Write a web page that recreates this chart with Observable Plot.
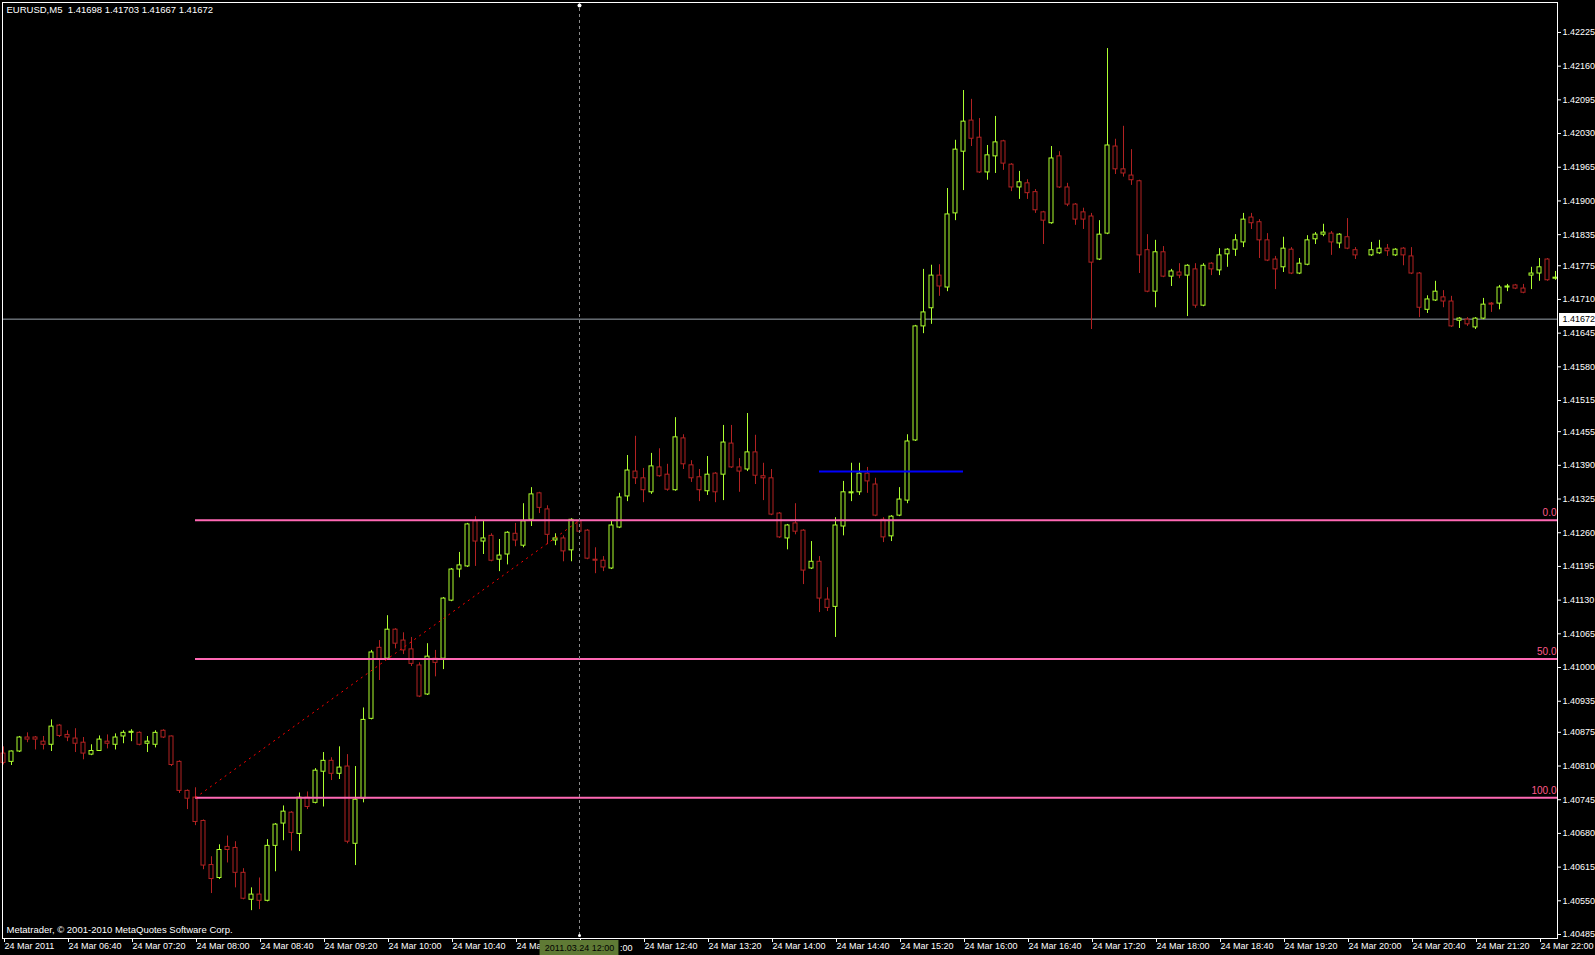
<!DOCTYPE html>
<html><head><meta charset="utf-8">
<script src="https://cdn.jsdelivr.net/npm/d3@7"></script>
<script src="https://cdn.jsdelivr.net/npm/@observablehq/plot@0.6"></script>
<style>html,body{margin:0;padding:0;background:#000;overflow:hidden}</style>
</head><body><div id="chart"></div>
<script>
// EURUSD M5, 24 Mar 2011, bars from 06:00 every 5 minutes
const openP = [1.40834,1.40818,1.40838,1.40865,1.40865,1.40857,1.40851,1.40888,1.40870,1.40863,
1.40855,1.40832,1.40839,1.40857,1.40851,1.40867,1.40874,1.40874,1.40853,1.40851,
1.40878,1.40867,1.40818,1.40762,1.40749,1.40704,1.40619,1.40594,1.40654,1.40652,
1.40604,1.40552,1.40562,1.40550,1.40656,1.40699,1.40720,1.40679,1.40749,1.40739,
1.40799,1.40820,1.40795,1.40809,1.40660,1.40747,1.40901,1.41038,1.41017,1.41073,
1.41052,1.41035,1.41004,1.40948,1.41017,1.41017,1.41129,1.41189,1.41195,1.41282,
1.41243,1.41254,1.41208,1.41218,1.41258,1.41235,1.41285,1.41336,1.41305,1.41245,
1.41249,1.41226,1.41282,1.41264,1.41208,1.41206,1.41191,1.41270,1.41330,1.41378,
1.41365,1.41338,1.41386,1.41372,1.41342,1.41442,1.41390,1.41367,1.41340,1.41374,
1.41372,1.41432,1.41386,1.41382,1.41415,1.41369,1.41365,1.41297,1.41249,1.41278,
1.41264,1.41191,1.41204,1.41131,1.41117,1.41272,1.41336,1.41338,1.41374,1.41353,
1.41285,1.41253,1.41293,1.41322,1.41438,1.41658,1.41693,1.41756,1.41733,1.41876,
1.41995,1.42055,1.42022,1.41955,1.41986,1.42015,1.41970,1.41926,1.41934,1.41917,
1.41878,1.41857,1.41986,1.41926,1.41893,1.41878,1.41870,1.41787,1.41837,1.42005,
1.41961,1.41949,1.41938,1.41805,1.41725,1.41801,1.41754,1.41762,1.41756,1.41768,
1.41698,1.41779,1.41766,1.41797,1.41806,1.41820,1.41868,1.41859,1.41824,1.41787,
1.41772,1.41806,1.41760,1.41777,1.41826,1.41835,1.41837,1.41818,1.41830,1.41805,
1.41801,1.41795,1.41799,1.41808,1.41795,1.41808,1.41793,1.41760,1.41690,1.41708,
1.41714,1.41706,1.41669,1.41671,1.41656,1.41673,1.41702,1.41702,1.41733,1.41737,
1.41731,1.41756,1.41760,1.41787,1.41750];
const highP = [1.40847,1.40839,1.40867,1.40874,1.40867,1.40867,1.40899,1.40890,1.40878,1.40882,
1.40865,1.40851,1.40868,1.40870,1.40872,1.40878,1.40880,1.40876,1.40867,1.40878,
1.40880,1.40868,1.40820,1.40764,1.40768,1.40706,1.40635,1.40658,1.40675,1.40664,
1.40612,1.40575,1.40594,1.40668,1.40699,1.40733,1.40722,1.40758,1.40760,1.40805,
1.40836,1.40826,1.40847,1.40832,1.40809,1.40922,1.41033,1.41052,1.41100,1.41075,
1.41067,1.41058,1.41009,1.41046,1.41033,1.41135,1.41191,1.41222,1.41278,1.41291,
1.41282,1.41258,1.41247,1.41262,1.41278,1.41316,1.41347,1.41338,1.41312,1.41258,
1.41254,1.41287,1.41287,1.41266,1.41231,1.41214,1.41282,1.41336,1.41409,1.41446,
1.41384,1.41413,1.41422,1.41392,1.41482,1.41449,1.41399,1.41382,1.41407,1.41376,
1.41467,1.41467,1.41403,1.41490,1.41448,1.41394,1.41382,1.41299,1.41276,1.41316,
1.41266,1.41243,1.41214,1.41154,1.41289,1.41359,1.41394,1.41394,1.41386,1.41365,
1.41289,1.41293,1.41347,1.41449,1.41660,1.41768,1.41776,1.41777,1.41924,1.42017,
1.42113,1.42096,1.42059,1.42007,1.42063,1.42017,1.41972,1.41957,1.41941,1.41922,
1.41880,1.42005,1.41995,1.41934,1.41895,1.41886,1.41876,1.41862,1.42194,1.42019,
1.42044,1.41999,1.41940,1.41835,1.41824,1.41812,1.41768,1.41779,1.41777,1.41779,
1.41779,1.41781,1.41808,1.41808,1.41835,1.41876,1.41876,1.41864,1.41837,1.41793,
1.41830,1.41810,1.41789,1.41833,1.41839,1.41855,1.41841,1.41837,1.41866,1.41810,
1.41801,1.41820,1.41824,1.41816,1.41808,1.41810,1.41810,1.41762,1.41717,1.41745,
1.41727,1.41716,1.41675,1.41675,1.41675,1.41712,1.41704,1.41737,1.41739,1.41739,
1.41739,1.41772,1.41789,1.41789,1.41764];
const lowP = [1.40812,1.40811,1.40836,1.40855,1.40841,1.40841,1.40838,1.40865,1.40857,1.40836,
1.40822,1.40830,1.40838,1.40843,1.40841,1.40853,1.40857,1.40849,1.40836,1.40845,
1.40863,1.40809,1.40757,1.40726,1.40695,1.40610,1.40564,1.40591,1.40623,1.40575,
1.40552,1.40531,1.40533,1.40548,1.40606,1.40666,1.40646,1.40645,1.40726,1.40737,
1.40731,1.40782,1.40784,1.40660,1.40618,1.40739,1.40899,1.40975,1.41015,1.41036,
1.41025,1.41002,1.40942,1.40946,1.40982,1.40996,1.41127,1.41173,1.41193,1.41195,
1.41218,1.41204,1.41185,1.41198,1.41233,1.41231,1.41272,1.41297,1.41237,1.41235,
1.41204,1.41204,1.41260,1.41208,1.41181,1.41185,1.41189,1.41268,1.41320,1.41353,
1.41318,1.41334,1.41367,1.41340,1.41340,1.41382,1.41357,1.41320,1.41332,1.41318,
1.41322,1.41384,1.41338,1.41378,1.41353,1.41322,1.41293,1.41249,1.41227,1.41256,
1.41160,1.41189,1.41106,1.41108,1.41058,1.41254,1.41320,1.41332,1.41336,1.41291,
1.41241,1.41243,1.41291,1.41316,1.41436,1.41644,1.41662,1.41716,1.41725,1.41862,
1.41920,1.42005,1.41953,1.41940,1.41953,1.41959,1.41918,1.41903,1.41903,1.41876,
1.41816,1.41855,1.41924,1.41889,1.41853,1.41845,1.41652,1.41785,1.41835,1.41951,
1.41946,1.41930,1.41760,1.41723,1.41694,1.41752,1.41735,1.41750,1.41677,1.41693,
1.41696,1.41756,1.41756,1.41772,1.41793,1.41810,1.41845,1.41789,1.41783,1.41729,
1.41762,1.41758,1.41758,1.41775,1.41816,1.41831,1.41795,1.41808,1.41806,1.41787,
1.41801,1.41793,1.41797,1.41793,1.41793,1.41775,1.41758,1.41675,1.41683,1.41706,
1.41694,1.41656,1.41654,1.41658,1.41652,1.41671,1.41685,1.41690,1.41725,1.41729,
1.41721,1.41729,1.41745,1.41745,1.41747];
const closeP = [1.40816,1.40838,1.40865,1.40861,1.40861,1.40851,1.40886,1.40868,1.40865,1.40853,
1.40834,1.40839,1.40861,1.40853,1.40865,1.40874,1.40876,1.40851,1.40857,1.40874,
1.40865,1.40812,1.40762,1.40747,1.40702,1.40618,1.40592,1.40648,1.40648,1.40604,
1.40554,1.40562,1.40550,1.40656,1.40697,1.40722,1.40681,1.40749,1.40731,1.40801,
1.40820,1.40795,1.40807,1.40664,1.40745,1.40899,1.41029,1.41015,1.41073,1.41046,
1.41033,1.41007,1.40944,1.41021,1.41009,1.41133,1.41189,1.41197,1.41276,1.41243,
1.41249,1.41206,1.41216,1.41260,1.41245,1.41282,1.41334,1.41308,1.41256,1.41249,
1.41224,1.41285,1.41262,1.41210,1.41206,1.41193,1.41274,1.41328,1.41380,1.41365,
1.41342,1.41388,1.41369,1.41343,1.41444,1.41392,1.41365,1.41342,1.41372,1.41338,
1.41434,1.41386,1.41378,1.41415,1.41370,1.41365,1.41295,1.41251,1.41274,1.41262,
1.41187,1.41204,1.41133,1.41115,1.41274,1.41338,1.41338,1.41374,1.41359,1.41293,
1.41251,1.41291,1.41324,1.41436,1.41658,1.41685,1.41756,1.41735,1.41874,1.41999,
1.42053,1.42020,1.41955,1.41988,1.42013,1.41972,1.41926,1.41936,1.41915,1.41882,
1.41862,1.41982,1.41926,1.41893,1.41864,1.41864,1.41781,1.41835,1.42007,1.41961,
1.41953,1.41940,1.41795,1.41725,1.41801,1.41754,1.41764,1.41756,1.41775,1.41698,
1.41775,1.41768,1.41795,1.41806,1.41824,1.41864,1.41857,1.41824,1.41785,1.41768,
1.41808,1.41760,1.41779,1.41824,1.41835,1.41839,1.41820,1.41835,1.41808,1.41795,
1.41801,1.41805,1.41808,1.41803,1.41806,1.41795,1.41760,1.41694,1.41710,1.41725,
1.41706,1.41658,1.41673,1.41662,1.41673,1.41700,1.41700,1.41733,1.41735,1.41731,
1.41723,1.41760,1.41772,1.41747,1.41752];

const xTickBars = [0,8,16,24,32,40,48,56,64,72,80,88,96,104,112,120,128,136,144,152,160,168,176,184,192];
// labels 11:20 and 12:00 are mostly hidden behind the crosshair date box: only "24 Ma" and ":00" show
const xTickLabels = ["24 Mar 2011","24 Mar 06:40","24 Mar 07:20","24 Mar 08:00","24 Mar 08:40","24 Mar 09:20","24 Mar 10:00","24 Mar 10:40","24 Ma","","24 Mar 12:40","24 Mar 13:20","24 Mar 14:00","24 Mar 14:40","24 Mar 15:20","24 Mar 16:00","24 Mar 16:40","24 Mar 17:20","24 Mar 18:00","24 Mar 18:40","24 Mar 19:20","24 Mar 20:00","24 Mar 20:40","24 Mar 21:20","24 Mar 22:00"];
const hiddenTickTail = ":00";
const yTicks = [1.42225,1.42160,1.42095,1.42030,1.41965,1.41900,1.41835,1.41775,1.41710,1.41645,1.41580,1.41515,1.41455,1.41390,1.41325,1.41260,1.41195,1.41130,1.41065,1.41000,1.40935,1.40875,1.40810,1.40745,1.40680,1.40615,1.40550,1.40485];

const fibLevels = [1.41284, 1.410165, 1.40749];
const fibLabels = ["0.0", "50.0", "100.0"];
const fibStartBar = 24;
const trendFrom = {bar: 24, price: 1.40749};
const trendTo = {bar: 72, price: 1.41284};
const blueLine = {from: 102, to: 120, price: 1.41378};
const bidPrice = 1.41672;
const crossBar = 72;
const crossLabel = "2011.03.24 12:00";
const header = "EURUSD,M5  1.41698 1.41703 1.41667 1.41672";
const copyright = "Metatrader, \u00A9 2001-2010 MetaQuotes Software Corp.";

const UP = "#adff2f", DN = "#b22222";
const bars = openP.map((o, i) => ({i, o, h: highP[i], l: lowP[i], c: closeP[i], up: closeP[i] >= o}));
const upBars = bars.filter(d => d.up), dnBars = bars.filter(d => !d.up);
const fib = fibLevels.map((level, k) => ({level, label: fibLabels[k]}));
const xLabel = new Map(xTickBars.map((b, k) => [b, xTickLabels[k]]));

const Y0 = 1.404773, Y1 = 1.422828;
const pAt = px => Y1 - (px - 2) * (Y1 - Y0) / 936;
const XR = 194.25;

const chart = Plot.plot({
  width: 1595, height: 955,
  marginLeft: 2, marginRight: 38, marginTop: 2, marginBottom: 17,
  style: {background: "#000", color: "#fff", fontFamily: "'Liberation Sans', Arial, sans-serif", fontSize: "9px"},
  x: {type: "linear", domain: [-0.125, XR], axis: null},
  y: {type: "linear", domain: [Y0, Y1], axis: null},
  marks: [
    Plot.ruleY([bidPrice], {stroke: "#9aa3ad", strokeWidth: 1}),
    Plot.ruleX(upBars, {x: "i", y1: "l", y2: "h", stroke: UP}),
    Plot.ruleX(dnBars, {x: "i", y1: "l", y2: "h", stroke: DN}),
    Plot.rect(upBars, {x1: d => d.i - 0.25, x2: d => d.i + 0.25, y1: "o", y2: "c", fill: "#000", stroke: UP}),
    Plot.rect(dnBars, {x1: d => d.i - 0.25, x2: d => d.i + 0.25, y1: "o", y2: "c", fill: "#000", stroke: DN}),
    Plot.ruleY(fib, {y: "level", x1: fibStartBar, x2: XR, stroke: "#ff69b4", strokeWidth: 2}),
    Plot.text(fib, {x: () => XR, y: "level", text: "label", textAnchor: "end", dx: -1, dy: -7, fill: "#ff5a8a", fontSize: 10}),
    Plot.link([0], {x1: () => trendFrom.bar, y1: () => trendFrom.price, x2: () => trendTo.bar, y2: () => trendTo.price, stroke: "#ff0000", strokeDasharray: "2,4"}),
    Plot.ruleY([blueLine], {y: "price", x1: "from", x2: "to", stroke: "#0000ff", strokeWidth: 2}),
    Plot.ruleX([crossBar], {stroke: "#8a8a8a", strokeDasharray: "3,3"}),
    Plot.frame({stroke: "#fff"}),
    Plot.axisY(yTicks, {anchor: "right", tickSize: 3, tickPadding: 2, tickFormat: d => d.toFixed(5), fill: "#fff", stroke: "#fff", fontSize: 9}),
    Plot.axisX(xTickBars, {anchor: "bottom", tickSize: 4, tickPadding: 0, tickFormat: d => xLabel.get(d), textAnchor: "start", dx: 1, fill: "#fff", stroke: "#fff", fontSize: 9}),
    Plot.rect([0], {x1: () => XR + 0.25, x2: () => 200, y1: () => pAt(326), y2: () => pAt(313), fill: "#fff"}),
    Plot.text([bidPrice], {x: () => XR, y: d => d, text: d => d.toFixed(5), textAnchor: "start", dx: 5, fill: "#000", fontSize: 9}),
    Plot.rect([0], {x1: () => crossBar - 4.93, x2: () => crossBar + 4.93, y1: () => pAt(940), y2: () => pAt(955), fill: "#5f7a35"}),
    Plot.text([crossLabel], {x: () => crossBar, y: () => pAt(947.5), text: d => d, textAnchor: "middle", fill: "#000", fontSize: 9}),
    Plot.text([hiddenTickTail], {x: () => crossBar + 4.93, y: () => pAt(947.5), text: d => d, textAnchor: "start", dx: 1, fill: "#fff", fontSize: 9}),
    Plot.dot([0], {x: () => crossBar, y: () => pAt(5), r: 2, fill: "#fff"}),
    Plot.dot([0], {x: () => crossBar, y: () => pAt(935), r: 1.5, fill: "#fff"}),
    Plot.text([header], {frameAnchor: "top-left", text: d => d, textAnchor: "start", lineAnchor: "top", dx: 4, dy: 4, fill: "#fff", fontSize: 9.5}),
    Plot.text([copyright], {frameAnchor: "bottom-left", text: d => d, textAnchor: "start", lineAnchor: "bottom", dx: 4, dy: -6, fill: "#fff", fontSize: 9.5})
  ]
});
document.getElementById("chart").appendChild(chart);
</script>
</body></html>
